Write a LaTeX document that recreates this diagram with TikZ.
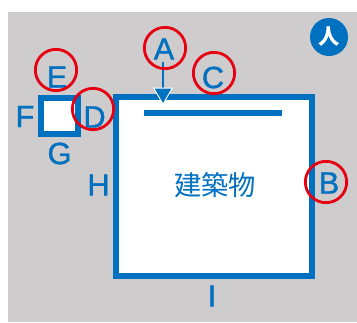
\documentclass[tikz,border=0pt]{standalone}
\usepackage{fontspec}
\setmainfont[RawFeature={embolden=1.2}]{Liberation Sans}
\newfontfamily\cjkfont{Noto Sans CJK JP}
\usetikzlibrary{arrows.meta}
\definecolor{mainBlue}{HTML}{0070C0}
\definecolor{backGray}{HTML}{CFCCCD}
\definecolor{markRed}{HTML}{E60012}
\tikzstyle{letterNode} = [text=mainBlue, inner sep=0pt, font=\fontsize{23}{23}\selectfont]
\tikzstyle{markCircle} = [shape=circle, draw=markRed, line width=2.1pt, inner sep=0pt, minimum size=31pt]
\tikzstyle{roomBox} = [shape=rectangle, draw=mainBlue, fill=white, line width=4.5pt, inner sep=0pt]
\tikzstyle{normalArrow} = [draw=mainBlue, line width=2.2pt, -{Triangle[length=13pt,width=15pt,color=white,fill=mainBlue,line width=0.7pt]}]

\begin{document}
\begin{tikzpicture}[x=0.75pt, y=-0.75pt]
  \useasboundingbox (0,0) rectangle (357,322);
  \fill [backGray] (8,12) rectangle (357,322);

  \node (BUILDING) [roomBox, minimum width=146.6pt, minimum height=134.3pt] at (214.2,186.5) {};
  \node (SMALL) [roomBox, minimum width=27.4pt, minimum height=27pt] at (59.7,116) {};
  \node (NAME) [text=mainBlue, inner sep=0pt, font=\cjkfont\fontsize{20.5}{21}\selectfont] at (215,185) {建築物};
  \node (BADGE) [shape=circle, fill=mainBlue, inner sep=0pt, minimum size=28.5pt, text=white, font=\cjkfont\bfseries\fontsize{16}{16}\selectfont] at (329,37) {人};

  \node (LABELA) [letterNode] at (164,49) {A};
  \node (LABELB) [letterNode] at (329,183) {B};
  \node (LABELC) [letterNode] at (213,77.5) {C};
  \node (LABELD) [letterNode] at (94.5,117) {D};
  \node (LABELE) [letterNode] at (57,77) {E};
  \node (LABELF) [letterNode] at (25,116.5) {F};
  \node (LABELG) [letterNode] at (59.5,153.5) {G};
  \node (LABELH) [letterNode] at (98.5,185) {H};
  \node (LABELI) [letterNode] at (212,296) {I};

  \coordinate (BARL) at (144,113);
  \coordinate (BARR) at (282,113);
  \coordinate (ARROWTOP) at (163,62);
  \coordinate (ARROWTIP) at (163,105);
  \draw [draw=mainBlue, line width=4.9pt] (BARL) -- (BARR);
  \draw [normalArrow] (ARROWTOP) -- (ARROWTIP);

  \node (MARKA) [markCircle] at (165,48) {};
  \node (MARKB) [markCircle] at (326,182) {};
  \node (MARKC) [markCircle] at (214,73) {};
  \node (MARKD) [markCircle] at (93,109) {};
  \node (MARKE) [markCircle] at (56,70) {};
\end{tikzpicture}
\end{document}
